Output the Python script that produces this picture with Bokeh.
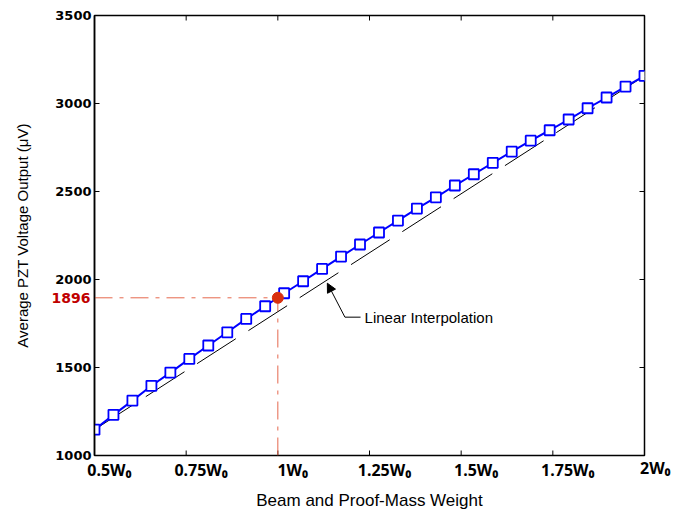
import math
from bokeh.plotting import figure
from bokeh.models import (Range1d, FixedTicker, LinearAxis, Label,
                          Arrow, NormalHead)
from bokeh.embed import file_html
from bokeh.resources import INLINE

# ---- data ----
weight = [0.5000, 0.5517, 0.6034, 0.6552, 0.7069, 0.7586, 0.8103, 0.8621, 0.9138, 0.9655,
          1.0172, 1.0690, 1.1207, 1.1724, 1.2241, 1.2759, 1.3276, 1.3793, 1.4310, 1.4828,
          1.5345, 1.5862, 1.6379, 1.6897, 1.7414, 1.7931, 1.8448, 1.8966, 1.9483, 2.0000]
voltage = [1147, 1231, 1312, 1396, 1471, 1549, 1625, 1700, 1776, 1848,
           1922, 1990, 2060, 2130, 2199, 2267, 2335, 2403, 2467, 2534,
           2598, 2663, 2727, 2789, 2848, 2909, 2973, 3034, 3096, 3157]
interp_weight = [0.5, 2.0]
interp_voltage = [1147, 3157]
ref_weight = 1.0
ref_voltage = 1896
x_ticks = [0.5, 0.75, 1.0, 1.25, 1.5, 1.75, 2.0]
x_tick_numbers = ["0.5", "0.75", "1", "1.25", "1.5", "1.75", "2"]
y_ticks = [1000, 1500, 2000, 2500, 3000, 3500]

X0, X1 = 0.5, 2.0
Y0, Y1 = 1000, 3500
TICK_FONT = "Noto Sans"
TICK_PX = 16
SUB0 = "W\u2080"

p = figure(width=699, height=512, output_backend="svg", toolbar_location=None,
           x_range=Range1d(X0, X1), y_range=Range1d(Y0, Y1),
           x_axis_location=None,
           min_border_left=94, min_border_right=55, min_border_top=15,
           min_border_bottom=57)
p.grid.visible = False
p.outline_line_color = "black"
p.outline_line_width = 1.5
p.background_fill_color = "white"
p.border_fill_color = "white"

# bottom axis: labels "<n>W0"; the number part sits on the tick, so the
# label axis uses a range shifted by ~15 px
frame_w = 699 - 94 - 55
shift = 15 * (X1 - X0) / frame_w
p.extra_x_ranges = {"lab": Range1d(X0 - shift, X1 - shift)}
xa = LinearAxis(x_range_name="lab", ticker=FixedTicker(ticks=x_ticks[:-1]))
xa.major_label_overrides = {t: s + SUB0 for t, s in zip(x_ticks, x_tick_numbers)}
xa.major_label_text_font = TICK_FONT
xa.major_label_text_font_style = "bold"
xa.major_label_text_font_size = f"{TICK_PX}px"
xa.major_label_text_color = "black"
xa.major_label_standoff = 3
xa.major_tick_in = 0
xa.major_tick_out = 0
xa.minor_tick_in = 0
xa.minor_tick_out = 0
xa.axis_line_color = None
xa.axis_label = "Beam and Proof-Mass Weight"
xa.axis_label_text_font = "Liberation Sans"
xa.axis_label_text_font_style = "normal"
xa.axis_label_text_font_size = "17px"
xa.axis_label_text_color = "black"
xa.axis_label_standoff = 7
p.add_layout(xa, "below")

# the last tick label lies past the shifted range's end, so it is drawn as a
# label kept in the (otherwise empty) right side panel
p.add_layout(Label(x=x_ticks[-1], y=Y0, text=x_tick_numbers[-1] + SUB0,
                   x_offset=-4.5, y_offset=-1.5, text_align="left",
                   text_baseline="top", text_font=TICK_FONT,
                   text_font_style="bold", text_font_size=f"{TICK_PX}px",
                   text_color="black"), "right")

ya = p.yaxis[0]
ya.ticker = FixedTicker(ticks=y_ticks)
ya.major_label_text_font = "DejaVu Sans"
ya.major_label_text_font_style = "bold"
ya.major_label_text_font_size = "13px"
ya.major_label_text_color = "black"
ya.major_label_standoff = 3
ya.major_tick_in = 5
ya.major_tick_out = 0
ya.minor_tick_in = 0
ya.minor_tick_out = 0
ya.axis_line_width = 1.5
ya.axis_line_color = "black"
ya.major_tick_line_color = "black"
ya.axis_label = "Average PZT Voltage Output (\u03bcV)"
ya.axis_label_text_font = "Liberation Sans"
ya.axis_label_text_font_style = "normal"
ya.axis_label_text_font_size = "15px"
ya.axis_label_text_color = "black"
ya.axis_label_standoff = 21

# inward ticks on bottom, top and right edges of the box
p.ray(x=x_ticks, y=[Y0] * len(x_ticks), length=5, length_units="screen",
      angle=math.pi / 2, line_color="black", line_width=1)
p.ray(x=x_ticks, y=[Y1] * len(x_ticks), length=5, length_units="screen",
      angle=-math.pi / 2, line_color="black", line_width=1)
p.ray(x=[X1] * len(y_ticks), y=y_ticks, length=5, length_units="screen",
      angle=math.pi, line_color="black", line_width=1)

# reference dash-dot guide lines
guide_col = "#E5684E"
p.line([X0, ref_weight], [ref_voltage, ref_voltage],
       line_color=guide_col, line_width=1, line_dash="18 7 4 7")
p.line([ref_weight, ref_weight], [Y0, ref_voltage],
       line_color=guide_col, line_width=1, line_dash="18 7 4 7")

# linear interpolation
p.line(interp_weight, interp_voltage, line_color="black", line_width=1,
       line_dash="46 15")

# main series
p.line(weight, voltage, line_color="#0000FF", line_width=2)
p.scatter(weight, voltage, marker="square", size=10, line_color="#0000FF",
          line_width=1.8, fill_color="white")

# reference point
p.scatter([ref_weight], [ref_voltage], marker="circle", size=11,
          fill_color="#D9300F", line_color="#D9300F")

# 1896 label: kept in a side panel (so it is not clipped to the frame);
# its position is still given in data units next to the left axis
p.add_layout(Label(x=X0, y=ref_voltage, text=str(ref_voltage),
                   x_offset=-4, text_align="right", text_baseline="middle",
                   text_font="DejaVu Sans", text_font_style="bold",
                   text_font_size="14px", text_color="#C00000"), "above")

# Linear Interpolation callout
elbow_x, elbow_y = 1.183, 1786
text_x = 1.2256
p.line([text_x, elbow_x], [elbow_y, elbow_y], line_color="black", line_width=1)
p.add_layout(Arrow(x_start=elbow_x, y_start=elbow_y, x_end=1.135, y_end=1979,
                   line_color="black", line_width=1,
                   end=NormalHead(size=9, fill_color="black", line_color="black")))
p.add_layout(Label(x=text_x, y=elbow_y, x_offset=4, text="Linear Interpolation",
                   text_align="left", text_baseline="middle",
                   text_font="Liberation Sans", text_font_size="15px",
                   text_color="black"))

open("out.html", "w").write(file_html(p, INLINE))
